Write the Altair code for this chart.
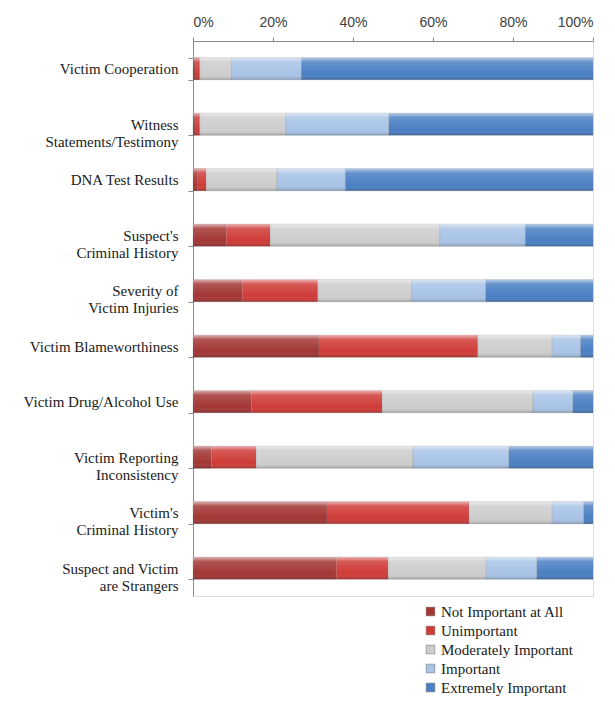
import altair as alt
import pandas as pd

categories = [
    "Victim Cooperation",
    "Witness|Statements/Testimony",
    "DNA Test Results",
    "Suspect's|Criminal History",
    "Severity of|Victim Injuries",
    "Victim Blameworthiness",
    "Victim Drug/Alcohol Use",
    "Victim Reporting|Inconsistency",
    "Victim's|Criminal History",
    "Suspect and Victim|are Strangers",
]
series = ["Not Important at All", "Unimportant", "Moderately Important",
          "Important", "Extremely Important"]
not_important = [0.5, 0.5, 1.2, 8.3, 12.3, 31.5, 14.6, 4.6, 33.5, 35.8]
unimportant = [1.2, 1.2, 2.1, 11.0, 18.9, 39.7, 32.7, 11.2, 35.5, 13.0]
moderately = [7.9, 21.5, 17.7, 42.4, 23.4, 18.6, 37.7, 39.2, 20.8, 24.5]
important = [17.5, 25.8, 17.1, 21.4, 18.6, 7.1, 10.0, 24.0, 7.9, 12.7]
extremely = [72.9, 51.0, 61.9, 16.9, 26.8, 3.1, 5.0, 21.0, 2.3, 14.0]
colors = ["#A23634", "#CF3B37", "#CDCDCD", "#A8C3E6", "#4A7FC3"]

rows = []
for vals, s_i in zip([not_important, unimportant, moderately, important, extremely], range(5)):
    for c, v in zip(categories, vals):
        rows.append({"category": c, "series": series[s_i], "rank": s_i, "value": v})
df = pd.DataFrame(rows)

x_enc = alt.X("value:Q", stack="normalize",
              scale=alt.Scale(domain=[0, 1], nice=False),
              axis=alt.Axis(orient="top", format="%", values=[0, 0.2, 0.4, 0.6, 0.8, 1.0],
                            grid=False, title=None, tickSize=4, labelPadding=8,
                            labelFont="Liberation Sans", labelFontSize=14,
                            labelColor="#404040", domainColor="#8a8a8a",
                            tickColor="#8a8a8a"))
y_enc = alt.Y("category:N", sort=categories, title=None,
              scale=alt.Scale(paddingInner=0.6, paddingOuter=0.3),
              axis=alt.Axis(labelExpr="split(datum.label, '|')", tickBand="extent",
                            tickSize=5, labelPadding=10, labelFont="Liberation Serif",
                            labelFontSize=15, labelColor="#1a1a1a", labelLineHeight=17,
                            domainColor="#8a8a8a", tickColor="#8a8a8a", labelLimit=300))

base = alt.Chart(df).encode(x=x_enc, y=y_enc, order=alt.Order("rank:Q"),
                            detail="series:N")

bars = base.mark_bar(stroke="#7a7a7a", strokeWidth=0.4, strokeOpacity=0.6).encode(
    color=alt.Color("series:N", sort=series,
                    scale=alt.Scale(domain=series, range=colors),
                    legend=alt.Legend(title=None, orient="none", legendX=230, legendY=563,
                                      symbolType="square", symbolSize=75,
                                      symbolStrokeColor="#666", symbolStrokeWidth=0.5,
                                      labelFont="Liberation Serif", labelFontSize=15,
                                      labelColor="#1a1a1a", rowPadding=3,
                                      labelOffset=3))
)

shine = base.mark_bar(color=alt.Gradient(
    gradient="linear", x1=0, x2=0, y1=0, y2=1,
    stops=[alt.GradientStop(color="rgba(255,255,255,0.6)", offset=0),
           alt.GradientStop(color="rgba(255,255,255,0.15)", offset=0.2),
           alt.GradientStop(color="rgba(255,255,255,0)", offset=0.75),
           alt.GradientStop(color="rgba(0,0,0,0.22)", offset=1)]))

chart = alt.layer(bars, shine).properties(
    width=400, height=555,
    autosize=alt.AutoSizeParams(type="none"),
    padding={"left": 185, "top": 33, "right": 14, "bottom": 106},
).configure_view(stroke=None).configure(background="white")

chart.save("out.html", embed_options={"renderer": "svg", "actions": False})
